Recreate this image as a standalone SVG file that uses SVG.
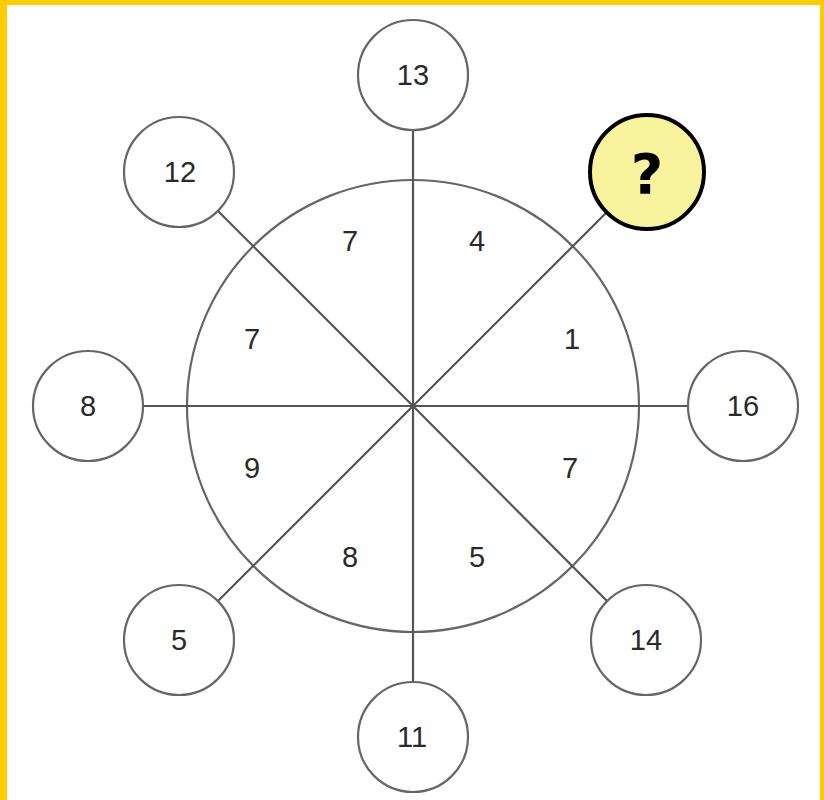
<svg xmlns="http://www.w3.org/2000/svg" width="824" height="800" viewBox="0 0 824 800">
<style>
.c{fill:#fff;stroke:#666;stroke-width:2.2}
.l{stroke:#555;stroke-width:2.2}
.t{font-family:"Liberation Sans",Arial,sans-serif;font-size:29px;fill:#2a2a2a;text-anchor:middle;dominant-baseline:central}
</style>
<rect x="0" y="0" width="824" height="800" fill="#fff"/>
<rect x="0" y="0" width="824" height="5" fill="#FFCC00"/>
<rect x="0" y="0" width="7" height="800" fill="#FFCC00"/>
<rect x="820" y="0" width="4" height="800" fill="#FFCC00"/>
<g id="wheel">
<circle cx="413" cy="406" r="226" fill="#fff" stroke="#666" stroke-width="2.2"/>
</g>
<g id="connectors">
<line class="l" x1="413" y1="406" x2="413" y2="130"/>
<line class="l" x1="413" y1="406" x2="413" y2="682"/>
<line class="l" x1="413" y1="406" x2="144" y2="406"/>
<line class="l" x1="413" y1="406" x2="688" y2="406"/>
<line class="l" x1="413" y1="406" x2="218" y2="211"/>
<line class="l" x1="413" y1="406" x2="606" y2="213"/>
<line class="l" x1="413" y1="406" x2="218" y2="601"/>
<line class="l" x1="413" y1="406" x2="607" y2="601"/>
</g>
<g id="segments">
<text class="t" x="350" y="241">7</text>
<text class="t" x="477" y="241">4</text>
<text class="t" x="572" y="339">1</text>
<text class="t" x="570" y="468">7</text>
<text class="t" x="477" y="557">5</text>
<text class="t" x="350" y="557">8</text>
<text class="t" x="252" y="468">9</text>
<text class="t" x="252" y="339">7</text>
</g>
<g id="n13"><circle class="c" cx="413" cy="75" r="55"/><text class="t" x="413" y="75">13</text></g>
<g id="n12"><circle class="c" cx="179" cy="172" r="55"/><text class="t" x="180" y="172">12</text></g>
<g id="n8"><circle class="c" cx="88" cy="406" r="55"/><text class="t" x="88" y="406">8</text></g>
<g id="n5"><circle class="c" cx="179" cy="640" r="55"/><text class="t" x="179" y="640">5</text></g>
<g id="n11"><circle class="c" cx="413" cy="737" r="55"/><text class="t" x="412" y="737">11</text></g>
<g id="n14"><circle class="c" cx="646" cy="640" r="55"/><text class="t" x="646" y="640">14</text></g>
<g id="n16"><circle class="c" cx="743" cy="406" r="55"/><text class="t" x="743" y="406">16</text></g>
<g id="nq"><circle cx="647" cy="172" r="57" fill="#F8F49E" stroke="#000" stroke-width="4"/><text x="647" y="173" font-family="'DejaVu Sans',sans-serif" font-weight="bold" font-size="56" fill="#000" text-anchor="middle" dominant-baseline="central">?</text></g>
</svg>
